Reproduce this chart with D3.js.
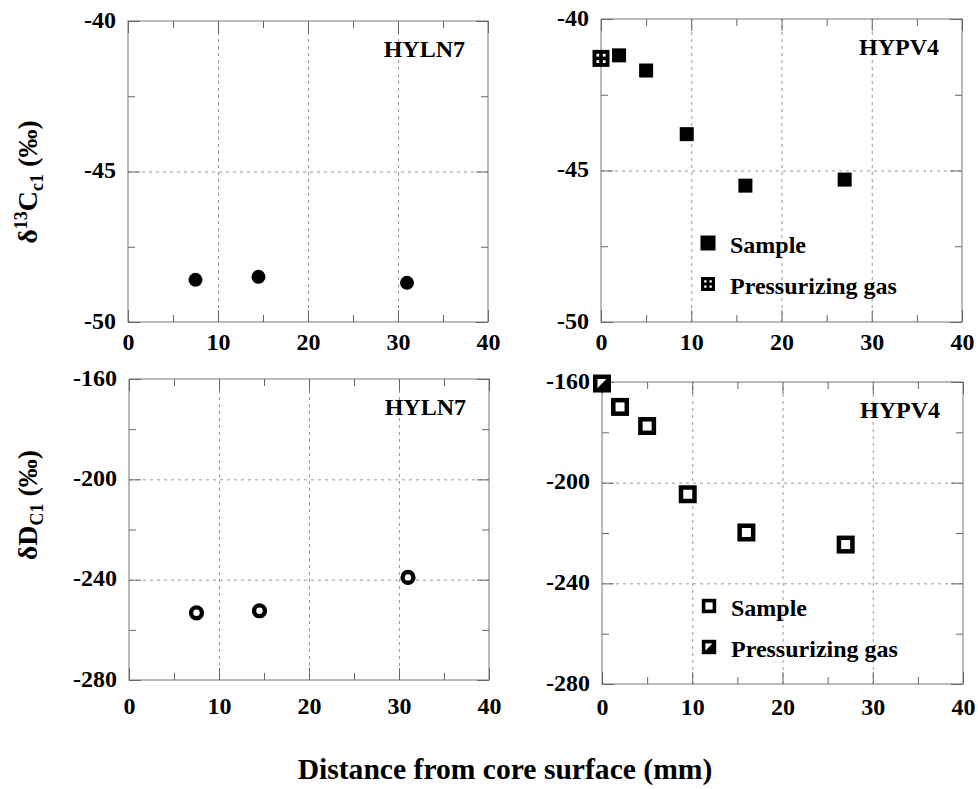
<!DOCTYPE html>
<html lang="en">
  <head>
    <meta charset="UTF-8" />
    <title>Isotope profiles vs distance from core surface</title>
    <script src="https://d3js.org/d3.v7.min.js"></script>
    <style>
      body { margin: 0; background: #fff; }
      svg text { font-family: "Liberation Serif", "Times New Roman", serif; font-weight: bold; fill: #000; }
      .tick text { font-size: 24px; }
      .grid line { stroke: #999; stroke-dasharray: 3,4; stroke-width: 1; }
      .ticks line { stroke: #666; stroke-width: 1; }
    </style>
  </head>
  <body>
    <div id="chart"></div>
    <script>
      // data
      const xTicks = [0, 10, 20, 30, 40];
      const xMinor = [5, 15, 25, 35];
      const c13Ticks = [-50, -45, -40];
      const c13Minor = [-47.5, -42.5];
      const dTicks = [-280, -240, -200, -160];
      const dMinor = [-260, -220, -180];

      const hyln7Dist = [7.5, 14.5, 31];
      const hyln7C13 = [-48.6, -48.5, -48.7];
      const hyln7D = [-253.2, -252.4, -239.1];

      const hypv4Dist = [2, 5, 9.5, 16, 27];
      const hypv4C13 = [-41.2, -41.7, -43.8, -45.5, -45.3];
      const hypv4D = [-169.9, -177.5, -204.6, -219.8, -224.6];

      const gasDist = [0];
      const gasC13 = [-41.3];
      const gasD = [-160.6];

      const W = 978, H = 789;
      const svg = d3.select("#chart").append("svg").attr("width", W).attr("height", H);

      const panels = [
        { l: 128, t: 21, r: 488, b: 322, dom: [-50, -40], maj: c13Ticks, min: c13Minor, name: "HYLN7", kind: "filledCircle", xs: hyln7Dist, ys: hyln7C13, xPad: 11 },
        { l: 601, t: 19, r: 962, b: 322, dom: [-50, -40], maj: c13Ticks, min: c13Minor, name: "HYPV4", kind: "filledSquare", xs: hypv4Dist, ys: hypv4C13, gas: gasC13, xPad: 11 },
        { l: 129, t: 379, r: 489, b: 680, dom: [-280, -160], maj: dTicks, min: dMinor, name: "HYLN7", kind: "openCircle", xs: hyln7Dist, ys: hyln7D, xPad: 17 },
        { l: 602, t: 382, r: 963, b: 684, dom: [-280, -160], maj: dTicks, min: dMinor, name: "HYPV4", kind: "openSquare", xs: hypv4Dist, ys: hypv4D, gas: gasD, xPad: 14 }
      ];

      function drawMarker(g, kind, cx, cy, s) {
        if (kind === "filledCircle") {
          g.append("circle").attr("cx", cx).attr("cy", cy).attr("r", 7 * s).attr("fill", "#000");
        } else if (kind === "openCircle") {
          g.append("circle").attr("cx", cx).attr("cy", cy).attr("r", 5.4 * s)
            .attr("fill", "#fff").attr("stroke", "#000").attr("stroke-width", 4.4 * s);
        } else if (kind === "filledSquare") {
          const a = 14 * s;
          g.append("rect").attr("x", cx - a / 2).attr("y", cy - a / 2).attr("width", a).attr("height", a).attr("fill", "#000");
        } else if (kind === "openSquare") {
          const a = 13.5 * s;
          g.append("rect").attr("x", cx - a / 2).attr("y", cy - a / 2).attr("width", a).attr("height", a)
            .attr("fill", "#fff").attr("stroke", "#000").attr("stroke-width", 4.5 * s);
        } else if (kind === "gasGrid") {
          const a = 17 * s, q = 2.8 * s;
          g.append("rect").attr("x", cx - a / 2).attr("y", cy - a / 2).attr("width", a).attr("height", a).attr("fill", "#000");
          [-1, 1].forEach((i) => [-1, 1].forEach((j) => {
            g.append("rect").attr("x", cx + i * 3.2 * s - q / 2).attr("y", cy + j * 3.2 * s - q / 2)
              .attr("width", q).attr("height", q).attr("fill", "#fff");
          }));
        } else if (kind === "gasHalf") {
          const a = 13.5 * s, h = a / 2;
          g.append("rect").attr("x", cx - h).attr("y", cy - h).attr("width", a).attr("height", a)
            .attr("fill", "#fff").attr("stroke", "#000").attr("stroke-width", 4.5 * s);
          g.append("path").attr("d", `M${cx - h},${cy + h}L${cx + h},${cy - h}L${cx + h},${cy + h}Z`).attr("fill", "#000");
        }
      }

      panels.forEach((p) => {
        const x = d3.scaleLinear().domain([0, 40]).range([p.l, p.r]);
        const y = d3.scaleLinear().domain(p.dom).range([p.b, p.t]);
        const w = p.r - p.l, h = p.b - p.t;

        // grid
        svg.append("g").attr("class", "grid").attr("transform", `translate(0,${p.b})`)
          .call(d3.axisBottom(x).tickValues(xTicks.slice(1, -1)).tickSize(-h).tickFormat(""))
          .call((g) => g.select(".domain").remove());
        svg.append("g").attr("class", "grid").attr("transform", `translate(${p.l},0)`)
          .call(d3.axisLeft(y).tickValues(p.maj.slice(1, -1)).tickSize(-w).tickFormat(""))
          .call((g) => g.select(".domain").remove());

        // frame
        svg.append("rect").attr("x", p.l).attr("y", p.t).attr("width", w).attr("height", h)
          .attr("fill", "none").attr("stroke", "#777").attr("stroke-width", 1);

        // labelled axes, ticks inside
        svg.append("g").attr("class", "ticks").attr("transform", `translate(0,${p.b})`)
          .call(d3.axisBottom(x).tickValues(xTicks).tickSize(-12).tickPadding(p.xPad).tickFormat((d) => String(d)))
          .call((g) => g.select(".domain").remove());
        svg.append("g").attr("class", "ticks").attr("transform", `translate(${p.l},0)`)
          .call(d3.axisLeft(y).tickValues(p.maj).tickSize(-12).tickPadding(12).tickFormat((d) => String(d)))
          .call((g) => g.select(".domain").remove())
          .call((g) => g.selectAll("text").attr("dy", "0.25em"));
        // unlabelled ticks on top/right plus minor ticks everywhere
        const bare = [
          [d3.axisTop(x).tickValues(xTicks), `translate(0,${p.t})`, 12],
          [d3.axisRight(y).tickValues(p.maj), `translate(${p.r},0)`, 12],
          [d3.axisBottom(x).tickValues(xMinor), `translate(0,${p.b})`, 7],
          [d3.axisTop(x).tickValues(xMinor), `translate(0,${p.t})`, 7],
          [d3.axisLeft(y).tickValues(p.min), `translate(${p.l},0)`, 7],
          [d3.axisRight(y).tickValues(p.min), `translate(${p.r},0)`, 7]
        ];
        bare.forEach(([ax, tr, len]) => {
          svg.append("g").attr("class", "ticks").attr("transform", tr)
            .call(ax.tickSize(-len).tickFormat(""))
            .call((g) => g.select(".domain").remove());
        });

        // panel name
        svg.append("text").attr("x", p.r - 23).attr("y", p.t + 36)
          .attr("text-anchor", "end").style("font-size", "24px").text(p.name);

        // points
        const mg = svg.append("g");
        p.xs.forEach((d, i) => drawMarker(mg, p.kind, x(d), y(p.ys[i]), 1));
        if (p.gas) {
          const gk = p.kind === "filledSquare" ? "gasGrid" : "gasHalf";
          gasDist.forEach((d, i) => drawMarker(mg, gk, x(d), y(p.gas[i]), 1));

          // legend
          const lx = p.l + 107;
          const rows = [["Sample", p.kind, p.t + 224], ["Pressurizing gas", gk, p.t + 265]];
          rows.forEach(([txt, k, ry]) => {
            drawMarker(svg, k, lx, ry, k === "gasGrid" ? 0.82 : (k === "openSquare" || k === "gasHalf") ? 0.8 : 1.07);
            svg.append("text").attr("x", p.l + 129).attr("y", ry + 10)
              .style("font-size", "24px").text(txt);
          });
        }
      });

      // y axis titles
      const yt1 = svg.append("text").attr("transform", "translate(37,182) rotate(-90)")
        .attr("text-anchor", "middle").style("font-size", "28px");
      yt1.append("tspan").text("δ");
      yt1.append("tspan").attr("dy", -10).style("font-size", "18px").text("13");
      yt1.append("tspan").attr("dy", 10).text("C");
      yt1.append("tspan").attr("dy", 6).style("font-size", "18px").text("c1");
      yt1.append("tspan").attr("dy", -6).text(" (‰)");

      const yt2 = svg.append("text").attr("transform", "translate(37,505) rotate(-90)")
        .attr("text-anchor", "middle").style("font-size", "28px");
      yt2.append("tspan").text("δD");
      yt2.append("tspan").attr("dy", 6).style("font-size", "18px").text("C1");
      yt2.append("tspan").attr("dy", -6).text(" (‰)");

      // x axis title
      svg.append("text").attr("x", 505).attr("y", 779).attr("text-anchor", "middle")
        .style("font-size", "29.6px").text("Distance from core surface (mm)");
    </script>
  </body>
</html>
